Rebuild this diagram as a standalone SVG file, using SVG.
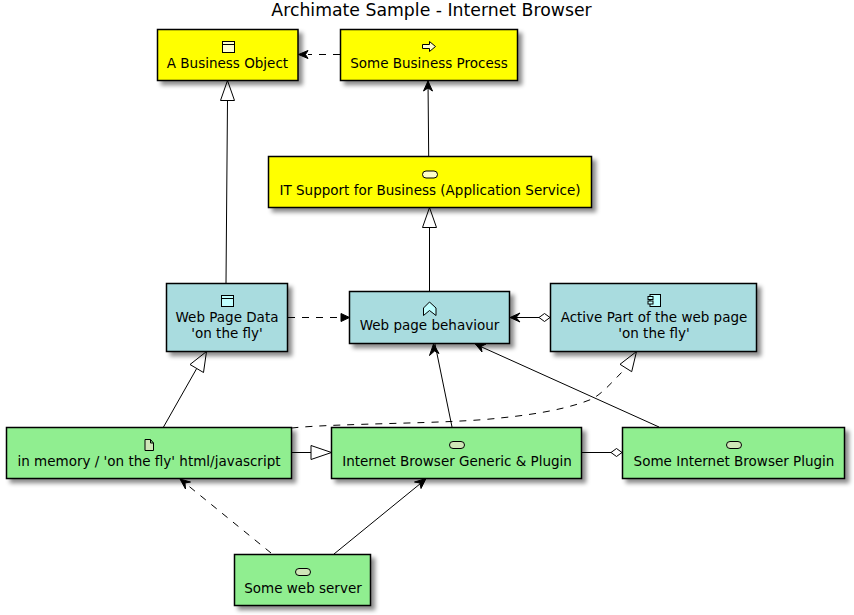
<svg xmlns="http://www.w3.org/2000/svg" width="854" height="615" viewBox="0 0 854 615">
<style>
text{font-family:"DejaVu Sans","Liberation Sans",sans-serif;font-size:13.5px;fill:#000;text-anchor:middle}
.title{font-size:17.3px}
.box{stroke:#000;stroke-width:1.5;filter:url(#sh)}
.y{fill:#ff0}.b{fill:#a9dcdf}.g{fill:#90ee90}
.i{stroke:#000;stroke-width:1;stroke-linejoin:miter}
.iy{fill:#ffffc8}.ib{fill:#c0ffff}.ig{fill:#cfe6b8}
.c{fill:none;stroke:#000;stroke-width:1}
.d{stroke-dasharray:7 7}
.h{fill:#fff;stroke:#000;stroke-width:1}
.a{fill:#000;stroke:#000;stroke-width:1}
</style>
<defs>
<filter id="sh" x="-10%" y="-15%" width="125%" height="140%"><feDropShadow dx="4" dy="4" stdDeviation="2" flood-color="#000" flood-opacity="0.45"/></filter>
</defs>
<rect width="854" height="615" fill="#fff"/>
<text class="title" x="431.500" y="16">Archimate Sample - Internet Browser</text>
<g id="connectors">
<path class="c d" d="M340 54.500L308 54.500"/><path class="a" d="M298.500 54.500L308 50.500L305.500 54.500L308 58.500Z"/>
<path class="c" d="M428.700 156L428 81"/><path class="a" d="M428 81L432.500 91L428 88L423.500 91Z"/>
<path class="c" d="M226 283L227.500 100"/><path class="h" d="M227.500 80.500L234.500 100.500L220.500 100.500Z"/>
<path class="c" d="M429.500 291L429.500 227"/><path class="h" d="M429.500 207.500L436.500 227.500L422.500 227.500Z"/>
<path class="c d" d="M288 317.500L341 317.500"/><path class="a" d="M349.500 317.500L341 313.500L341 321.500Z"/>
<path class="c" d="M539 317.500L510 317.500"/><path class="a" d="M510 317.500L520 313L516 317.500L520 322Z"/><path class="h" d="M550 317.500L544.500 313.500L539 317.500L544.500 321.500Z"/>
<path class="c" d="M163.500 427L196.700 368.500"/><path class="h" d="M206.500 351.500L203.500 372.500L190 364.500Z"/>
<path class="c" d="M452 427L435 344"/><path class="a" d="M433.500 344L439 353.500L434.500 351L429.500 355.500Z"/>
<path class="c" d="M659 427L475 344"/><path class="a" d="M475 343.500L486 344L481 346.500L482 352Z"/>
<path class="c d" d="M291.500 428C340 423 450 424 500 418C540 414 570 408 592 399C603 393 612 382 626 368"/><path class="h" d="M636.500 351.500L631.700 371.700L620 364.300Z"/>
<path class="c" d="M292 452.500L311 452.500"/><path class="h" d="M331.500 452.500L311 459.500L311 445.500Z"/>
<path class="c" d="M581.500 452.500L611 452.500"/><path class="h" d="M622 452.500L616.500 448.500L611 452.500L616.500 456.500Z"/>
<path class="c d" d="M271 553L180 479"/><path class="a" d="M180 479L190.500 482L185 483L185.500 489Z"/>
<path class="c" d="M334 554L426 479"/><path class="a" d="M426 478.500L421 488.500L420 483L414.500 482Z"/>
</g>
<g id="business-object"><rect class="box y" x="157.500" y="29.500" width="140.500" height="51"/><rect class="i iy" x="222.500" y="41.500" width="12" height="11"/><path class="i" d="M222.500 44.500H234.500"/><text x="227.500" y="68">A Business Object</text></g>
<g id="business-process"><rect class="box y" x="340.500" y="29.500" width="177" height="51"/><path class="i iy" d="M422.500 44.500H429.500V41.500L435.500 46.500L429.500 51.500V48.500H422.500Z"/><text x="429" y="68">Some Business Process</text></g>
<g id="it-support"><rect class="box y" x="268.500" y="156.500" width="323" height="51"/><rect class="i iy" x="422.500" y="171" width="15" height="7" rx="3.500"/><text x="430" y="195">IT Support for Business (Application Service)</text></g>
<g id="web-page-data"><rect class="box b" x="166.500" y="283.500" width="121" height="68"/><rect class="i ib" x="221.500" y="295.500" width="12" height="11"/><path class="i" d="M221.500 298.500H233.500"/><text x="227" y="322">Web Page Data</text><text x="227" y="338">'on the fly'</text></g>
<g id="web-page-behaviour"><rect class="box b" x="349.500" y="291.500" width="160" height="52"/><path class="i ib" d="M423.500 308V315.500L429.500 310.500L436 315.500V308L429.500 302Z"/><text x="429.500" y="330">Web page behaviour</text></g>
<g id="active-part"><rect class="box b" x="550.500" y="283.500" width="206" height="68"/><rect class="i ib" x="650" y="294.500" width="10.500" height="12"/><rect class="i ib" x="648" y="296.500" width="5" height="3"/><rect class="i ib" x="648" y="301" width="5" height="3"/><text x="654" y="322">Active Part of the web page</text><text x="654" y="338">'on the fly'</text></g>
<g id="in-memory"><rect class="box g" x="6.500" y="427.500" width="285" height="51"/><path class="i ig" d="M145 439.500H150.500L153.500 443V450.500H145ZM150.500 439.500V443H153.500"/><text x="149" y="466">in memory / 'on the fly' html/javascript</text></g>
<g id="browser-generic"><rect class="box g" x="331.500" y="427.500" width="250" height="51"/><rect class="i ig" x="449.500" y="441.500" width="15" height="7" rx="3.500"/><text x="457" y="466">Internet Browser Generic &amp; Plugin</text></g>
<g id="browser-plugin"><rect class="box g" x="622.500" y="427.500" width="222" height="51"/><rect class="i ig" x="726.500" y="441.500" width="15" height="7" rx="3.500"/><text x="734" y="466">Some Internet Browser Plugin</text></g>
<g id="web-server"><rect class="box g" x="234.500" y="554.500" width="136" height="51"/><rect class="i ig" x="295.500" y="568.500" width="15" height="7" rx="3.500"/><text x="303" y="593">Some web server</text></g>
</svg>
